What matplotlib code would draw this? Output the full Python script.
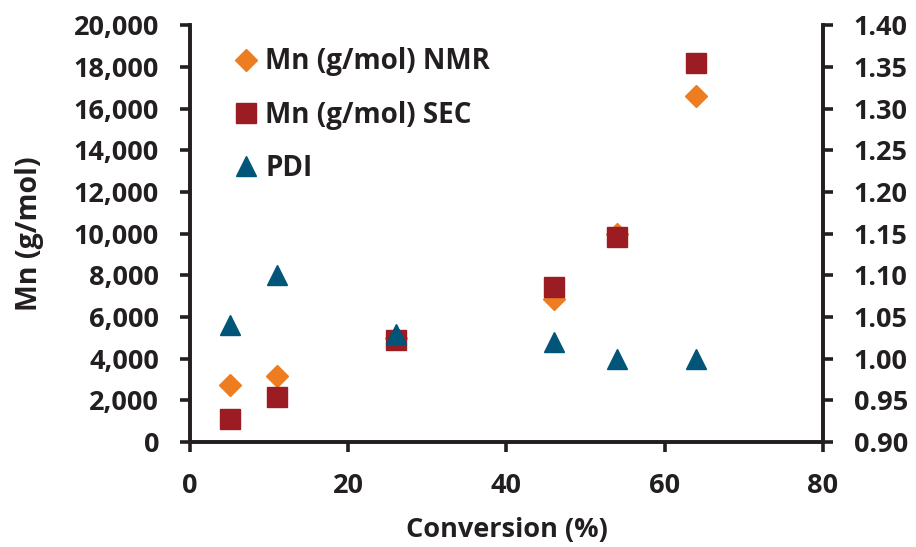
import numpy as np
import matplotlib.pyplot as plt
from matplotlib.ticker import FuncFormatter

plt.rcParams['font.family'] = ['Open Sans', 'DejaVu Sans']
plt.rcParams['font.weight'] = 'bold'

# data
conv_nmr = [5, 11, 26, 46, 54, 64]
mn_nmr = [2750, 3150, 5000, 6850, 10000, 16600]
conv_sec = [5, 11, 26, 46, 54, 64]
mn_sec = [1100, 2150, 4900, 7450, 9850, 18200]
conv_pdi = [5, 11, 26, 46, 54, 64]
pdi = [1.04, 1.10, 1.03, 1.02, 1.00, 1.00]

c_nmr = '#ee7d22'
c_sec = '#9b1c23'
c_pdi = '#005578'
dark = '#231f20'

fig = plt.figure(figsize=(9.16, 5.47), dpi=100)
ax = fig.add_axes([0.2074, 0.192, 0.691, 0.762])
ax2 = ax.twinx()

l1, = ax.plot(conv_nmr, mn_nmr, 'D', color=c_nmr, markersize=11.5, linestyle='none', label='Mn (g/mol) NMR')
l2, = ax.plot(conv_sec, mn_sec, 's', color=c_sec, markersize=14, linestyle='none', label='Mn (g/mol) SEC')
l3, = ax2.plot(conv_pdi, pdi, '^', color=c_pdi, markersize=14, linestyle='none', label='PDI')

ax.set_xlim(0, 80)
ax.set_ylim(0, 20000)
ax2.set_ylim(0.90, 1.40)
ax.set_xticks([0, 20, 40, 60, 80])
ax.set_yticks(np.arange(0, 20001, 2000))
ax2.set_yticks(np.arange(0.90, 1.401, 0.05))
ax.yaxis.set_major_formatter(FuncFormatter(lambda v, p: f'{int(v):,}'))
ax2.yaxis.set_major_formatter(FuncFormatter(lambda v, p: f'{v:.2f}'))

for a in (ax, ax2):
    for s in a.spines.values():
        s.set_linewidth(2.6)
        s.set_color(dark)
    a.spines['top'].set_visible(False)
    a.tick_params(width=2.6, length=7.2, color=dark, labelsize=19.5, labelcolor=dark, pad=15)
ax.tick_params(axis='x', pad=15)

ax.set_xlabel('Conversion (%)', fontsize=19.5, fontweight='bold', color=dark)
ax.set_ylabel('Mn (g/mol)', fontsize=20.5, fontweight='bold', color=dark)
ax.xaxis.set_label_coords(0.5, -0.18)
ax.yaxis.set_label_coords(-0.231, 0.5)

leg = ax.legend(handles=[l1, l2, l3], loc='upper left', bbox_to_anchor=(0.02, 1.007),
                frameon=False, fontsize=20, labelspacing=0.88, handletextpad=0.05,
                handlelength=1.3, markerscale=1.0)
for t in leg.get_texts():
    t.set_color(dark)

fig.savefig('out.png', dpi=100)
